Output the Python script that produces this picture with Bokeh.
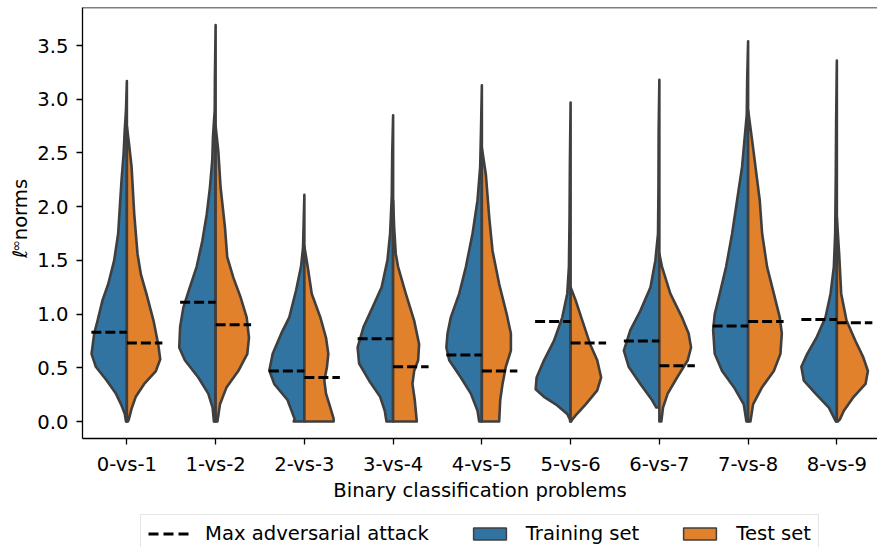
import math
from bokeh.plotting import figure
from bokeh.layouts import row, column
from bokeh.models import (Range1d, FixedTicker, PrintfTickFormatter, Span,
                          Legend, LegendItem)
from bokeh.core.properties import value
from bokeh.embed import file_html
from bokeh.resources import INLINE

# --- data ---------------------------------------------------------------
problems = ["0-vs-1", "1-vs-2", "2-vs-3", "3-vs-4", "4-vs-5",
            "5-vs-6", "6-vs-7", "7-vs-8", "8-vs-9"]

# max adversarial attack (l-inf norm) per problem
train_attack = [0.83, 1.11, 0.47, 0.77, 0.62, 0.93, 0.75, 0.89, 0.95]
test_attack = [0.73, 0.90, 0.41, 0.51, 0.47, 0.73, 0.52, 0.93, 0.92]

# violin outlines: norm levels (bottom -> top) and half-widths (category units)
train_y = [
    [0.0, 0.07, 0.15, 0.26, 0.38, 0.51, 0.63, 0.82, 0.94, 1.13, 1.28, 1.50, 1.75, 2.00, 2.25, 2.49, 2.70, 2.90, 3.17],
    [0.0, 0.13, 0.26, 0.41, 0.57, 0.69, 0.88, 1.06, 1.25, 1.44, 1.68, 1.93, 2.18, 2.43, 2.65, 2.90, 3.20, 3.69],
    [0.0, 0.025, 0.20, 0.35, 0.475, 0.63, 0.82, 0.97, 1.22, 1.44, 1.62, 1.85, 2.11],
    [0.0, 0.10, 0.23, 0.38, 0.54, 0.69, 0.88, 1.06, 1.25, 1.50, 1.75, 2.10, 2.50, 2.85],
    [0.0, 0.10, 0.26, 0.41, 0.57, 0.69, 0.82, 0.97, 1.19, 1.44, 1.75, 2.06, 2.37, 2.70, 3.13],
    [0.0, 0.02, 0.07, 0.15, 0.23, 0.30, 0.41, 0.57, 0.75, 0.97, 1.19, 1.44, 1.90, 2.40, 2.97],
    [0.13, 0.20, 0.35, 0.51, 0.66, 0.85, 1.03, 1.25, 1.50, 1.75, 2.20, 2.70, 3.18],
    [0.0, 0.16, 0.32, 0.47, 0.63, 0.85, 1.00, 1.19, 1.44, 1.75, 2.06, 2.37, 2.62, 2.86, 3.20, 3.54],
    [0.0, 0.025, 0.13, 0.26, 0.38, 0.51, 0.63, 0.78, 0.97, 1.19, 1.44, 1.75, 2.30, 2.80, 3.36],
]
train_w = [
    [0.01, 0.023, 0.06, 0.124, 0.225, 0.35, 0.398, 0.368, 0.33, 0.274, 0.21, 0.143, 0.098, 0.079, 0.06, 0.037, 0.025, 0.01, 0.0],
    [0.019, 0.034, 0.083, 0.195, 0.346, 0.41, 0.40, 0.364, 0.29, 0.214, 0.15, 0.10, 0.064, 0.038, 0.03, 0.01, 0.008, 0.0],
    [0.12, 0.11, 0.19, 0.34, 0.395, 0.357, 0.26, 0.17, 0.094, 0.038, 0.015, 0.008, 0.0],
    [0.075, 0.094, 0.146, 0.27, 0.383, 0.40, 0.334, 0.233, 0.13, 0.064, 0.034, 0.015, 0.01, 0.0],
    [0.03, 0.049, 0.124, 0.237, 0.368, 0.40, 0.387, 0.35, 0.255, 0.18, 0.105, 0.049, 0.019, 0.01, 0.0],
    [0.005, 0.008, 0.038, 0.15, 0.30, 0.394, 0.383, 0.30, 0.188, 0.094, 0.038, 0.019, 0.012, 0.008, 0.0],
    [0.034, 0.083, 0.214, 0.346, 0.40, 0.327, 0.214, 0.10, 0.045, 0.015, 0.01, 0.008, 0.0],
    [0.019, 0.049, 0.16, 0.293, 0.376, 0.394, 0.376, 0.32, 0.248, 0.18, 0.124, 0.068, 0.041, 0.015, 0.01, 0.0],
    [0.01, 0.026, 0.09, 0.24, 0.372, 0.40, 0.334, 0.23, 0.128, 0.071, 0.034, 0.019, 0.012, 0.008, 0.0],
]
test_y = [
    [0.0, 0.02, 0.12, 0.23, 0.35, 0.47, 0.58, 0.72, 0.94, 1.19, 1.37, 1.56, 1.93, 2.37, 2.58, 2.75],
    [0.0, 0.16, 0.32, 0.47, 0.63, 0.78, 0.97, 1.16, 1.34, 1.53, 1.81, 2.18, 2.52, 2.75],
    [0.0, 0.025, 0.13, 0.26, 0.38, 0.51, 0.63, 0.78, 0.97, 1.19, 1.44, 1.63],
    [0.0, 0.20, 0.35, 0.47, 0.57, 0.72, 0.94, 1.19, 1.44, 1.56, 1.80, 2.06],
    [0.0, 0.20, 0.35, 0.51, 0.66, 0.82, 1.00, 1.28, 1.59, 1.90, 2.30, 2.55],
    [0.0, 0.02, 0.07, 0.16, 0.29, 0.41, 0.57, 0.72, 0.97, 1.13, 1.25],
    [0.0, 0.13, 0.26, 0.41, 0.57, 0.69, 0.82, 0.97, 1.19, 1.44, 1.56],
    [0.0, 0.16, 0.32, 0.47, 0.63, 0.82, 0.97, 1.19, 1.44, 1.75, 2.06, 2.62, 2.90],
    [0.0, 0.02, 0.10, 0.23, 0.35, 0.47, 0.60, 0.75, 0.94, 1.19, 1.56, 1.90],
]
test_w = [
    [0.012, 0.022, 0.053, 0.10, 0.195, 0.327, 0.376, 0.353, 0.30, 0.22, 0.158, 0.12, 0.083, 0.053, 0.025, 0.0],
    [0.02, 0.049, 0.124, 0.255, 0.357, 0.376, 0.35, 0.28, 0.20, 0.131, 0.105, 0.056, 0.03, 0.0],
    [0.33, 0.33, 0.293, 0.244, 0.225, 0.255, 0.27, 0.244, 0.18, 0.083, 0.038, 0.0],
    [0.267, 0.244, 0.218, 0.237, 0.282, 0.293, 0.237, 0.143, 0.056, 0.03, 0.012, 0.0],
    [0.195, 0.207, 0.233, 0.27, 0.327, 0.327, 0.28, 0.195, 0.12, 0.083, 0.045, 0.0],
    [0.005, 0.02, 0.07, 0.17, 0.30, 0.344, 0.30, 0.22, 0.12, 0.056, 0.0],
    [0.022, 0.041, 0.094, 0.20, 0.32, 0.357, 0.33, 0.255, 0.124, 0.03, 0.0],
    [0.026, 0.056, 0.158, 0.29, 0.364, 0.38, 0.357, 0.29, 0.214, 0.158, 0.131, 0.045, 0.0],
    [0.01, 0.034, 0.079, 0.19, 0.323, 0.35, 0.297, 0.21, 0.109, 0.049, 0.026, 0.0],
]

# --- style / layout ---------------------------------------------------------
BLUE = "#3274a1"
ORANGE = "#e1812c"
EDGE = "#3f3f3f"
FONT = "DejaVu Sans"
FS = "19.6px"
W, H = 877, 547
LABEL_W = 30          # strip that holds the rotated y-axis title
LEGEND_H = 33         # strip that holds the legend
MAIN_H = H - LEGEND_H


def half_outline(center, levels, widths, side):
    """Closed outline of one half of a split violin (side -1 left, +1 right)."""
    xs = [center + side * w for w in widths] + [center, center]
    ys = list(levels) + [levels[-1], levels[0]]
    return xs, ys


def bare(fig):
    fig.outline_line_color = None
    fig.grid.visible = False
    fig.border_fill_color = "white"
    fig.background_fill_color = "white"


tr_xs, tr_ys, te_xs, te_ys = [], [], [], []
for i in range(len(problems)):
    xs, ys = half_outline(i, train_y[i], train_w[i], -1)
    tr_xs.append(xs)
    tr_ys.append(ys)
    xs, ys = half_outline(i, test_y[i], test_w[i], +1)
    te_xs.append(xs)
    te_ys.append(ys)
centers = list(range(len(problems)))

violin_kw = dict(line_color=EDGE, line_width=2.6, line_join="round")
dash_kw = dict(line_color="black", line_width=3, line_dash="10 4")

# --- main axes ------------------------------------------------------------
p = figure(width=W - LABEL_W, height=MAIN_H, output_backend="svg",
           toolbar_location=None,
           x_range=Range1d(-0.5, 8.458), y_range=Range1d(-0.158, 3.854),
           min_border_left=82 - LABEL_W, min_border_right=0, min_border_top=7,
           min_border_bottom=MAIN_H - 438)
bare(p)

p.patches(tr_xs, tr_ys, fill_color=BLUE, **violin_kw)
p.patches(te_xs, te_ys, fill_color=ORANGE, **violin_kw)

p.segment(x0=[c - 0.4 for c in centers], y0=train_attack,
          x1=centers, y1=train_attack, **dash_kw)
p.segment(x0=centers, y0=test_attack,
          x1=[c + 0.4 for c in centers], y1=test_attack, **dash_kw)

# top spine
p.add_layout(Span(location=3.854, dimension="width", line_color="black",
                  line_width=1.3))

xa = p.xaxis[0]
xa.ticker = FixedTicker(ticks=centers)
xa.major_label_overrides = {i: name for i, name in enumerate(problems)}
xa.axis_label = "Binary classification problems"
ya = p.yaxis[0]
ya.ticker = FixedTicker(ticks=[0.0, 0.5, 1.0, 1.5, 2.0, 2.5, 3.0, 3.5])
ya.formatter = PrintfTickFormatter(format="%.1f")
for ax in (xa, ya):
    ax.axis_line_color = "black"
    ax.axis_line_width = 1.3
    ax.major_tick_line_color = "black"
    ax.major_tick_line_width = 1.3
    ax.major_tick_out = 6
    ax.major_tick_in = 0
    ax.minor_tick_line_color = None
    ax.major_label_text_font = FONT
    ax.major_label_text_font_size = FS
    ax.major_label_text_color = "black"
    ax.major_label_standoff = 8
    ax.axis_label_text_font = FONT
    ax.axis_label_text_font_size = FS
    ax.axis_label_text_font_style = "normal"
    ax.axis_label_text_color = "black"
xa.axis_label_standoff = 0

# --- y-axis title "l^inf norms" in its own strip --------------------------
t = figure(width=LABEL_W, height=MAIN_H, output_backend="svg",
           toolbar_location=None,
           x_range=Range1d(0, LABEL_W), y_range=Range1d(0, MAIN_H),
           min_border=0, x_axis_location=None, y_axis_location=None)
bare(t)
txt_kw = dict(angle=math.pi / 2, text_font=value(FONT), text_color="black",
              text_baseline="middle", text_align="center")
t.text(x=[20], y=[220], text=["ℓ"], text_font_size=FS,
       text_font_style="italic", **txt_kw)
t.text(x=[15], y=[230], text=["∞"], text_font_size="14px", **txt_kw)
t.text(x=[20], y=[273], text=["norms"], text_font_size=FS, **txt_kw)

# --- legend strip ------------------------------------------------------------
lg = figure(width=W, height=LEGEND_H, output_backend="svg", toolbar_location=None,
            x_range=Range1d(-0.5, 8.5), y_range=Range1d(-0.158, 3.854),
            min_border_left=140, min_border_right=0, min_border_top=0,
            min_border_bottom=0, x_axis_location=None, y_axis_location=None)
bare(lg)
# hidden copies of the marks, used only as legend handles
leg_line = lg.segment(x0=[centers[0] - 0.4], y0=[train_attack[0]],
                      x1=[centers[0]], y1=[train_attack[0]],
                      line_color="black", line_width=3, line_dash="10 5",
                      visible=False)
leg_train = lg.patches([tr_xs[0]], [tr_ys[0]], fill_color=BLUE,
                       line_color=EDGE, line_width=1.5, visible=False)
leg_test = lg.patches([te_xs[0]], [te_ys[0]], fill_color=ORANGE,
                      line_color=EDGE, line_width=1.5, visible=False)
legend = Legend(items=[LegendItem(label="Max adversarial attack", renderers=[leg_line]),
                       LegendItem(label="Training set", renderers=[leg_train]),
                       LegendItem(label="Test set", renderers=[leg_test])],
                orientation="horizontal", location="top_left",
                glyph_width=41, glyph_height=15, label_standoff=16, spacing=40,
                padding=7, margin=0, border_line_color="#cccccc",
                border_line_width=1.3, label_text_font=FONT,
                label_text_font_size=FS, label_text_color="black",
                label_text_baseline="middle", background_fill_alpha=1.0,
                click_policy="none")
lg.add_layout(legend)

layout = column(row(t, p, spacing=0), lg, spacing=0)
open("out.html", "w").write(file_html(layout, INLINE))
